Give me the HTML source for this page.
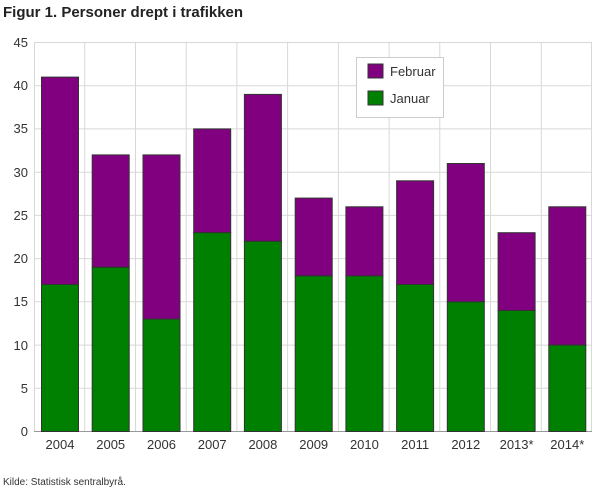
<!DOCTYPE html>
<html><head><style>body{margin:0;background:#fff;font-family:"Liberation Sans","DejaVu Sans",sans-serif}</style></head><body>
<svg width="610" height="488" xmlns="http://www.w3.org/2000/svg" font-family="Liberation Sans, DejaVu Sans, sans-serif">
<text x="3" y="17" font-size="15" font-weight="bold" fill="#222">Figur 1. Personer drept i trafikken</text>
<g stroke="#d8d8d8" stroke-width="1">
<line x1="34" x2="592" y1="42.5" y2="42.5"/><line x1="34" x2="592" y1="85.7" y2="85.7"/><line x1="34" x2="592" y1="128.9" y2="128.9"/><line x1="34" x2="592" y1="172.2" y2="172.2"/><line x1="34" x2="592" y1="215.4" y2="215.4"/><line x1="34" x2="592" y1="258.6" y2="258.6"/><line x1="34" x2="592" y1="301.8" y2="301.8"/><line x1="34" x2="592" y1="345.1" y2="345.1"/><line x1="34" x2="592" y1="388.3" y2="388.3"/>
<line x1="34.5" x2="34.5" y1="42" y2="432"/><line x1="84.7" x2="84.7" y1="42" y2="432"/><line x1="135.5" x2="135.5" y1="42" y2="432"/><line x1="186.2" x2="186.2" y1="42" y2="432"/><line x1="236.9" x2="236.9" y1="42" y2="432"/><line x1="287.6" x2="287.6" y1="42" y2="432"/><line x1="338.4" x2="338.4" y1="42" y2="432"/><line x1="389.1" x2="389.1" y1="42" y2="432"/><line x1="439.8" x2="439.8" y1="42" y2="432"/><line x1="490.5" x2="490.5" y1="42" y2="432"/><line x1="541.3" x2="541.3" y1="42" y2="432"/><line x1="591.5" x2="591.5" y1="42" y2="432"/>
</g>
<line x1="34" x2="592" y1="431.5" y2="431.5" stroke="#999"/>
<g font-size="13" fill="#333" text-anchor="end">
<text x="28" y="47">45</text><text x="28" y="90">40</text><text x="28" y="133">35</text><text x="28" y="177">30</text><text x="28" y="220">25</text><text x="28" y="263">20</text><text x="28" y="306">15</text><text x="28" y="350">10</text><text x="28" y="393">5</text><text x="28" y="436">0</text>
</g>
<g stroke="#333" stroke-width="1">
<rect x="41.5" y="77.1" width="37" height="207.5" fill="#800080"/><rect x="41.5" y="284.5" width="37" height="147" fill="#008000"/>
<rect x="92.2" y="154.9" width="37" height="112.4" fill="#800080"/><rect x="92.2" y="267.3" width="37" height="164.2" fill="#008000"/>
<rect x="143" y="154.9" width="37" height="164.2" fill="#800080"/><rect x="143" y="319.1" width="37" height="112.4" fill="#008000"/>
<rect x="193.7" y="128.9" width="37" height="103.7" fill="#800080"/><rect x="193.7" y="232.7" width="37" height="198.8" fill="#008000"/>
<rect x="244.4" y="94.4" width="37" height="147" fill="#800080"/><rect x="244.4" y="241.3" width="37" height="190.2" fill="#008000"/>
<rect x="295.2" y="198.1" width="37" height="77.8" fill="#800080"/><rect x="295.2" y="275.9" width="37" height="155.6" fill="#008000"/>
<rect x="345.9" y="206.8" width="37" height="69.2" fill="#800080"/><rect x="345.9" y="275.9" width="37" height="155.6" fill="#008000"/>
<rect x="396.6" y="180.8" width="37" height="103.7" fill="#800080"/><rect x="396.6" y="284.5" width="37" height="147" fill="#008000"/>
<rect x="447.3" y="163.5" width="37" height="138.3" fill="#800080"/><rect x="447.3" y="301.8" width="37" height="129.7" fill="#008000"/>
<rect x="498.1" y="232.7" width="37" height="77.8" fill="#800080"/><rect x="498.1" y="310.5" width="37" height="121" fill="#008000"/>
<rect x="548.8" y="206.8" width="37" height="138.3" fill="#800080"/><rect x="548.8" y="345.1" width="37" height="86.4" fill="#008000"/>
</g>
<g font-size="13" fill="#333" text-anchor="middle">
<text x="60" y="449">2004</text><text x="110.7" y="449">2005</text><text x="161.5" y="449">2006</text><text x="212.2" y="449">2007</text><text x="262.9" y="449">2008</text><text x="313.7" y="449">2009</text><text x="364.4" y="449">2010</text><text x="415.1" y="449">2011</text><text x="465.8" y="449">2012</text><text x="516.6" y="449">2013*</text><text x="567.3" y="449">2014*</text>
</g>
<rect x="356.5" y="57.5" width="87" height="60" fill="#fff" stroke="#ccc"/>
<rect x="368" y="64" width="15" height="14" fill="#800080" stroke="#333"/>
<text x="390" y="76" font-size="13" fill="#333">Februar</text>
<rect x="368" y="91" width="15" height="14" fill="#008000" stroke="#333"/>
<text x="390" y="103" font-size="13" fill="#333">Januar</text>
<text x="3" y="485" font-size="10" fill="#333">Kilde: Statistisk sentralbyrå.</text>
</svg></body></html>
